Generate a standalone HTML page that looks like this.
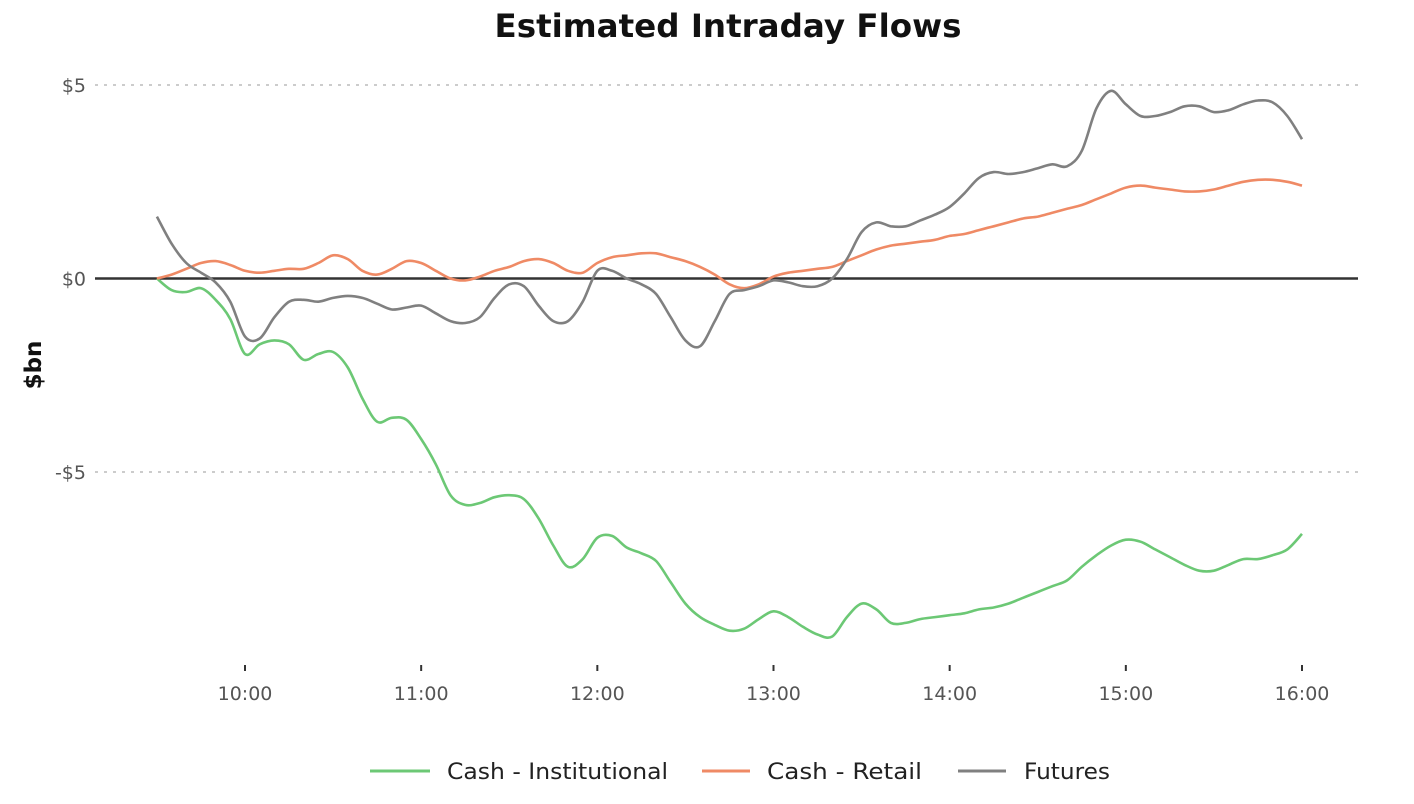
<!DOCTYPE html>
<html><head><meta charset="utf-8"><style>
body{margin:0;background:#fff;width:1414px;height:800px;overflow:hidden;font-family:"DejaVu Sans","Liberation Sans",sans-serif}
</style></head><body>
<svg id="chart" width="1414" height="800" xmlns="http://www.w3.org/2000/svg" font-family="DejaVu Sans, Liberation Sans, sans-serif">
<text x="728" y="37" text-anchor="middle" font-size="32" font-weight="bold" fill="#111" textLength="467" lengthAdjust="spacingAndGlyphs">Estimated Intraday Flows</text>
<text transform="translate(41,365) rotate(-90)" text-anchor="middle" font-size="23" font-weight="bold" fill="#111">$bn</text>
<g id="grid"></g><g id="series"></g><g id="xaxis"></g>
<g>
<g><line x1="370" y1="771" x2="430" y2="771" stroke="#6cc875" stroke-width="3"/><text x="447" y="779" font-size="22" fill="#222" textLength="221" lengthAdjust="spacingAndGlyphs">Cash - Institutional</text></g>
<g><line x1="702" y1="771" x2="750" y2="771" stroke="#ef8a65" stroke-width="3"/><text x="767" y="779" font-size="22" fill="#222" textLength="155" lengthAdjust="spacingAndGlyphs">Cash - Retail</text></g>
<g><line x1="958" y1="771" x2="1006" y2="771" stroke="#808080" stroke-width="3"/><text x="1024" y="779" font-size="22" fill="#222" textLength="86" lengthAdjust="spacingAndGlyphs">Futures</text></g>
</g>
</svg>
<script>
const startMinutes = 570; // 9:30, 5-min steps
const institutional = [0,-0.3,-0.35,-0.25,-0.55,-1.05,-1.95,-1.7,-1.6,-1.7,-2.1,-1.95,-1.9,-2.3,-3.1,-3.7,-3.6,-3.65,-4.15,-4.8,-5.6,-5.85,-5.8,-5.65,-5.6,-5.7,-6.2,-6.9,-7.45,-7.25,-6.7,-6.65,-6.95,-7.1,-7.3,-7.85,-8.4,-8.75,-8.95,-9.1,-9.05,-8.8,-8.6,-8.75,-9.0,-9.2,-9.25,-8.75,-8.4,-8.55,-8.9,-8.9,-8.8,-8.75,-8.7,-8.65,-8.55,-8.5,-8.4,-8.25,-8.1,-7.95,-7.8,-7.45,-7.15,-6.9,-6.75,-6.8,-7.0,-7.2,-7.4,-7.55,-7.55,-7.4,-7.25,-7.25,-7.15,-7.0,-6.6];
const retail = [0,0.1,0.25,0.4,0.45,0.35,0.2,0.15,0.2,0.25,0.25,0.4,0.6,0.5,0.2,0.1,0.25,0.45,0.4,0.2,0.0,-0.05,0.05,0.2,0.3,0.45,0.5,0.4,0.2,0.15,0.4,0.55,0.6,0.65,0.65,0.55,0.45,0.3,0.1,-0.15,-0.25,-0.15,0.05,0.15,0.2,0.25,0.3,0.45,0.6,0.75,0.85,0.9,0.95,1.0,1.1,1.15,1.25,1.35,1.45,1.55,1.6,1.7,1.8,1.9,2.05,2.2,2.35,2.4,2.35,2.3,2.25,2.25,2.3,2.4,2.5,2.55,2.55,2.5,2.4];
const futures = [1.6,0.9,0.4,0.15,-0.1,-0.6,-1.5,-1.55,-1.0,-0.6,-0.55,-0.6,-0.5,-0.45,-0.5,-0.65,-0.8,-0.75,-0.7,-0.9,-1.1,-1.15,-1.0,-0.5,-0.15,-0.2,-0.7,-1.1,-1.1,-0.6,0.2,0.2,0.0,-0.15,-0.4,-1.0,-1.6,-1.75,-1.1,-0.4,-0.3,-0.2,-0.05,-0.1,-0.2,-0.2,0.0,0.5,1.2,1.45,1.35,1.35,1.5,1.65,1.85,2.2,2.6,2.75,2.7,2.75,2.85,2.95,2.9,3.3,4.4,4.85,4.5,4.2,4.2,4.3,4.45,4.45,4.3,4.35,4.5,4.6,4.55,4.2,3.6];
const yTicks = [5,0,-5];
const yTickLabels = ["$5","$0","-$5"];
const xTicks = [600,660,720,780,840,900,960];
const xTickLabels = ["10:00","11:00","12:00","13:00","14:00","15:00","16:00"];

const NS="http://www.w3.org/2000/svg";
function xScale(min){return 245+(min-600)*(1302-245)/360;}
function yScale(v){return 278.5-v*38.7;}
function mk(tag,attrs,parent){const e=document.createElementNS(NS,tag);for(const k in attrs)e.setAttribute(k,attrs[k]);parent.appendChild(e);return e;}
const grid=document.getElementById('grid'),ser=document.getElementById('series'),xa=document.getElementById('xaxis');
yTicks.forEach((t,i)=>{
  const y=yScale(t);
  const l=mk('line',{x1:95,x2:1358,y1:y,y2:y,stroke:t===0?'#333':'#ccc','stroke-width':t===0?2.5:2,'stroke-dasharray':t===0?'':'3,6'},grid);
  
  
  const tx=mk('text',{x:86,y:y+7,'text-anchor':'end','font-size':19,fill:'#555'},grid);
  tx.textContent=yTickLabels[i];
  
  
});
xTicks.forEach((t,i)=>{
  const x=xScale(t);
  const tk=mk('line',{x1:x,x2:x,y1:665,y2:671,stroke:'#333','stroke-width':2},xa);
  
  
  const tx=mk('text',{x:x,y:700,'text-anchor':'middle','font-size':19,fill:'#555'},xa);
  tx.textContent=xTickLabels[i];
  
  
});
function draw(arr,color,name){
  const pts=arr.map((v,i)=>[xScale(startMinutes+i*5),yScale(v)]);
  let d='M'+pts[0][0].toFixed(1)+','+pts[0][1].toFixed(1);
  for(let i=0;i<pts.length-1;i++){
    const p0=pts[Math.max(0,i-1)],p1=pts[i],p2=pts[i+1],p3=pts[Math.min(pts.length-1,i+2)];
    const c1=[p1[0]+(p2[0]-p0[0])/6,p1[1]+(p2[1]-p0[1])/6];
    const c2=[p2[0]-(p3[0]-p1[0])/6,p2[1]-(p3[1]-p1[1])/6];
    d+=' C'+c1.map(n=>n.toFixed(1)).join(',')+' '+c2.map(n=>n.toFixed(1)).join(',')+' '+p2.map(n=>n.toFixed(1)).join(',');
  }
  const p=mk('path',{d:d,fill:'none',stroke:color,'stroke-width':2.6,'stroke-linejoin':'round'},ser);
  
  
}
draw(institutional,'#6cc875','line-cash-institutional');
draw(retail,'#ef8a65','line-cash-retail');
draw(futures,'#808080','line-futures');
</script>
</body></html>
